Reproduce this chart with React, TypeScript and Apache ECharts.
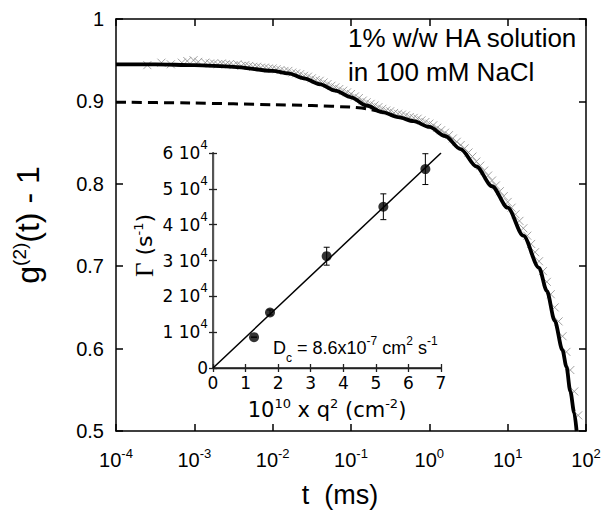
import React, { useEffect, useRef } from "react";
import * as echarts from "echarts";

// ---- main panel data (log10 of t in ms, g2(t)-1) ----
const sparseLogT = [-3.6, -3.42, -3.3, -3.16, -3.09, -3.01, -2.95, -2.86];
const sparseG = [0.944, 0.947, 0.945, 0.947, 0.949, 0.95, 0.948, 0.947];

const denseLogT = [
  -2.8, -2.75, -2.7, -2.65, -2.6, -2.55, -2.5, -2.45, -2.4, -2.35,
  -2.3, -2.25, -2.2, -2.15, -2.1, -2.05, -2.0, -1.95, -1.9, -1.85,
  -1.8, -1.75, -1.7, -1.65, -1.6, -1.55, -1.5, -1.45, -1.4, -1.35,
  -1.3, -1.25, -1.2, -1.15, -1.1, -1.05, -1.0, -0.95, -0.9, -0.85,
  -0.8, -0.75, -0.7, -0.65, -0.6, -0.55, -0.5, -0.45, -0.4, -0.35,
  -0.3, -0.25, -0.2, -0.15, -0.1, -0.05, 0.0, 0.05, 0.1, 0.15,
  0.2, 0.25, 0.3, 0.35, 0.4, 0.45, 0.5, 0.55, 0.6, 0.65,
  0.7, 0.75, 0.8, 0.85, 0.9, 0.95, 1.0, 1.05, 1.1, 1.15,
  1.2, 1.25, 1.3, 1.35, 1.4, 1.45, 1.5, 1.55, 1.6, 1.65,
  1.7, 1.75, 1.8, 1.85, 1.9,
];
const denseG = [
  0.946, 0.946, 0.945, 0.946, 0.945, 0.945, 0.944, 0.945, 0.943, 0.944,
  0.943, 0.942, 0.942, 0.941, 0.941, 0.94, 0.94, 0.939, 0.938, 0.937,
  0.937, 0.935, 0.934, 0.933, 0.931, 0.93, 0.928, 0.926, 0.925, 0.923,
  0.921, 0.919, 0.917, 0.915, 0.913, 0.911, 0.909, 0.906, 0.904, 0.901,
  0.899, 0.897, 0.895, 0.893, 0.891, 0.889, 0.888, 0.886, 0.885, 0.884,
  0.883, 0.881, 0.88, 0.879, 0.877, 0.875, 0.873, 0.871, 0.868, 0.865,
  0.862, 0.859, 0.855, 0.851, 0.847, 0.843, 0.838, 0.833, 0.827, 0.822,
  0.816, 0.81, 0.804, 0.798, 0.791, 0.785, 0.778, 0.771, 0.763, 0.755,
  0.746, 0.737, 0.727, 0.717, 0.706, 0.694, 0.681, 0.666, 0.65, 0.633,
  0.615, 0.596, 0.574, 0.548, 0.519,
];

const fitLogT = [
  -4.0, -3.5, -3.0, -2.5, -2.0, -1.8, -1.6, -1.4, -1.2, -1.0, -0.8, -0.6, -0.4,
  -0.2, 0.0, 0.2, 0.4, 0.6, 0.8, 1.0, 1.2, 1.4, 1.5, 1.6, 1.7, 1.75, 1.8, 1.85, 1.88,
];
const fitG = [
  0.945, 0.945, 0.944, 0.942, 0.937, 0.934, 0.928, 0.921, 0.913, 0.905, 0.895, 0.887, 0.881,
  0.876, 0.869, 0.858, 0.842, 0.821, 0.797, 0.771, 0.737, 0.698, 0.67, 0.634, 0.598, 0.578, 0.548, 0.522, 0.5,
];

const slowLogT = [-4.0, -3.0, -2.0, -1.5, -1.0, -0.8, -0.6];
const slowG = [0.899, 0.898, 0.896, 0.895, 0.893, 0.891, 0.887];

const noteLines = ["1% w/w HA solution", "in 100 mM NaCl"];

// ---- inset data ----
const insetQ2 = [1.26, 1.75, 3.49, 5.23, 6.52];
const insetGamma = [8600, 15500, 31200, 45000, 55500];
const insetErr = [0, 700, 2500, 3600, 4300];
const insetFitQ2 = [0, 7];
const insetFitGamma = [0, 60000];

const SANS = "Liberation Sans";
const DJ = "DejaVu Sans";

export default function App() {
  const ref = useRef<HTMLDivElement>(null);

  useEffect(() => {
    if (!ref.current) return;
    const chart = echarts.init(ref.current, undefined, { renderer: "svg" });

    const toPts = (lx: number[], ys: number[]) =>
      lx.map((l, i) => [Math.pow(10, l), ys[i]]);

    const axisLineStyle = { color: "#000", width: 1.5 };
    const insetLineStyle = { color: "#222", width: 1.3 };

    const option: any = {
      animation: false,
      backgroundColor: "#fff",
      textStyle: { fontFamily: SANS },
      grid: [
        { left: 116, top: 19, width: 470, height: 412, containLabel: false, outerBoundsMode: "none" },
        { left: 213, top: 153, width: 228, height: 215, containLabel: false, outerBoundsMode: "none",
          show: true, backgroundColor: "#fff", borderWidth: 0 },
      ],
      xAxis: [
        {
          gridIndex: 0, type: "log", logBase: 10, min: 1e-4, max: 1e2, splitNumber: 6,
          position: "bottom",
          axisLine: { lineStyle: axisLineStyle },
          axisTick: { inside: true, length: 7, lineStyle: axisLineStyle },
          minorTick: { show: false }, splitLine: { show: false },
          axisLabel: {
            margin: 16, color: "#000",
            formatter: (v: number) => `{b|10}{s|${Math.round(Math.log10(v))}}`,
            rich: {
              b: { fontSize: 20, fontFamily: SANS, color: "#000" },
              s: { fontSize: 13, fontFamily: SANS, color: "#000", padding: [0, 0, 13, 0] },
            },
          },
          name: "t  (ms)", nameLocation: "middle", nameGap: 50,
          nameTextStyle: { fontSize: 27, fontFamily: SANS, color: "#000", padding: [0, 22, 0, 0] },
        },
        {
          gridIndex: 0, type: "log", logBase: 10, min: 1e-4, max: 1e2, splitNumber: 6,
          position: "top",
          axisLine: { lineStyle: axisLineStyle },
          axisTick: { inside: true, length: 7, lineStyle: axisLineStyle },
          minorTick: { show: false }, splitLine: { show: false },
          axisLabel: { show: false },
        },
        {
          gridIndex: 1, type: "value", min: 0, max: 7, interval: 1, position: "bottom",
          axisLine: { lineStyle: { color: "#555", width: 2 } },
          axisTick: { inside: true, length: 4, lineStyle: insetLineStyle },
          splitLine: { show: false },
          axisLabel: { margin: 6, color: "#000", fontSize: 17, fontFamily: DJ },
          name: "10{s|10} x q{s|2} (cm{s|-2})", nameLocation: "middle", nameGap: 29,
          nameTextStyle: {
            fontSize: 21, fontFamily: DJ, color: "#000",
            rich: { s: { fontSize: 13, fontFamily: DJ, color: "#000", padding: [0, 0, 12, 0] } },
          },
        },
        {
          gridIndex: 1, type: "value", min: 0, max: 7, interval: 1, position: "top",
          axisLine: { lineStyle: insetLineStyle },
          axisTick: { inside: true, length: 4, lineStyle: insetLineStyle },
          splitLine: { show: false }, axisLabel: { show: false },
        },
      ],
      yAxis: [
        {
          gridIndex: 0, type: "value", min: 0.5, max: 1, interval: 0.1, position: "left",
          axisLine: { lineStyle: axisLineStyle },
          axisTick: { inside: true, length: 7, lineStyle: axisLineStyle },
          splitLine: { show: false },
          axisLabel: {
            margin: 12, color: "#000", fontSize: 20, fontFamily: SANS,
            formatter: (v: number) => (Math.abs(v - 1) < 1e-9 ? "1" : v.toFixed(1)),
          },
          name: "g{s|(2)}(t) - 1", nameLocation: "middle", nameGap: 70, nameRotate: 90,
          nameTextStyle: {
            fontSize: 32, fontFamily: SANS, color: "#000",
            rich: { s: { fontSize: 19, fontFamily: SANS, color: "#000", padding: [0, 0, 17, 0] } },
          },
        },
        {
          gridIndex: 0, type: "value", min: 0.5, max: 1, interval: 0.1, position: "right",
          axisLine: { lineStyle: axisLineStyle },
          axisTick: { inside: true, length: 7, lineStyle: axisLineStyle },
          splitLine: { show: false }, axisLabel: { show: false },
        },
        {
          gridIndex: 1, type: "value", min: 0, max: 60000, interval: 10000, position: "left",
          axisLine: { lineStyle: insetLineStyle },
          axisTick: { inside: true, length: 4, lineStyle: insetLineStyle },
          splitLine: { show: false },
          axisLabel: {
            margin: 5, color: "#000",
            formatter: (v: number) => (v === 0 ? "{b|0}" : `{b|${v / 10000} 10}{s|4}`),
            rich: {
              b: { fontSize: 17, fontFamily: DJ, color: "#000" },
              s: { fontSize: 12, fontFamily: DJ, color: "#000", padding: [0, 0, 16, 0] },
            },
          },
          name: "{g|Γ} (s{s|-1})", nameLocation: "middle", nameGap: 56, nameRotate: 90,
          nameTextStyle: {
            fontSize: 22, fontFamily: DJ, color: "#000", padding: [0, 0, 0, 30],
            rich: {
              g: { fontSize: 25, fontFamily: "Liberation Serif", color: "#000" },
              s: { fontSize: 13, fontFamily: DJ, color: "#000", padding: [0, 0, 12, 0] },
            },
          },
        },
        {
          gridIndex: 1, type: "value", min: 0, max: 60000, interval: 10000, position: "right",
          axisLine: { lineStyle: { color: "#555", width: 2 } },
          axisTick: { inside: true, length: 4, lineStyle: insetLineStyle },
          splitLine: { show: false }, axisLabel: { show: false },
        },
      ],
      series: [
        {
          type: "scatter", xAxisIndex: 0, yAxisIndex: 0,
          data: toPts(sparseLogT, sparseG).concat(toPts(denseLogT, denseG)),
          symbol: "path://M0,0L10,10M10,0L0,10", symbolSize: 8,
          itemStyle: { color: "rgba(0,0,0,0)", borderColor: "#8a8a8a", borderWidth: 1 },
          clip: true, z: 1,
        },
        {
          type: "line", xAxisIndex: 0, yAxisIndex: 0, data: toPts(slowLogT, slowG),
          showSymbol: false, smooth: 0.2,
          lineStyle: { color: "#000", width: 3, type: [10, 6] }, z: 3,
        },
        {
          type: "line", xAxisIndex: 0, yAxisIndex: 0, data: toPts(fitLogT, fitG),
          showSymbol: false, smooth: 0.3, smoothMonotone: "x", clip: true,
          lineStyle: { color: "#000", width: 3.8 }, z: 4,
        },
        {
          type: "line", xAxisIndex: 2, yAxisIndex: 2,
          data: insetFitQ2.map((q, i) => [q, insetFitGamma[i]]),
          showSymbol: false, lineStyle: { color: "#000", width: 1.5 }, z: 5,
        },
        {
          type: "custom", xAxisIndex: 2, yAxisIndex: 2,
          data: insetQ2.map((q, i) => [q, insetGamma[i], insetErr[i]]),
          encode: { x: 0, y: 1 },
          renderItem: (params: any, api: any) => {
            const x = api.value(0), y = api.value(1), e = api.value(2);
            const top = api.coord([x, y + e]);
            const bot = api.coord([x, y - e]);
            const cw = 3;
            const st = { stroke: "#000", lineWidth: 1 };
            return {
              type: "group",
              children: [
                { type: "line", shape: { x1: top[0], y1: top[1], x2: bot[0], y2: bot[1] }, style: st },
                { type: "line", shape: { x1: top[0] - cw, y1: top[1], x2: top[0] + cw, y2: top[1] }, style: st },
                { type: "line", shape: { x1: bot[0] - cw, y1: bot[1], x2: bot[0] + cw, y2: bot[1] }, style: st },
              ],
            };
          },
          z: 6,
        },
        {
          type: "scatter", xAxisIndex: 2, yAxisIndex: 2,
          data: insetQ2.map((q, i) => [q, insetGamma[i]]),
          symbol: "circle", symbolSize: 10, itemStyle: { color: "#000" }, z: 7,
        },
      ],
      graphic: [
        {
          type: "text", left: 348, top: 25,
          style: { text: noteLines[0], font: `26px "${SANS}"`, fill: "#000" },
        },
        {
          type: "text", left: 348, top: 59,
          style: { text: noteLines[1], font: `26px "${SANS}"`, fill: "#000" },
        },
        {
          type: "text", x: 273, y: 348,
          style: {
            text: "D{sub|c} = 8.6x10{s|-7} cm{s|2} s{s|-1}",
            fontSize: 18, fontFamily: SANS, fill: "#000", verticalAlign: "middle", align: "left",
            rich: {
              sub: { fontSize: 12, fontFamily: SANS, fill: "#000", padding: [20, 0, 0, 0] },
              s: { fontSize: 12, fontFamily: SANS, fill: "#000", padding: [0, 0, 14, 0] },
            },
          },
          z: 10,
        },
      ],
    };

    chart.setOption(option);
    return () => chart.dispose();
  }, []);

  return (
    <div
      ref={ref}
      style={{ position: "fixed", left: 0, top: 0, width: 604, height: 510, background: "#fff" }}
    />
  );
}
